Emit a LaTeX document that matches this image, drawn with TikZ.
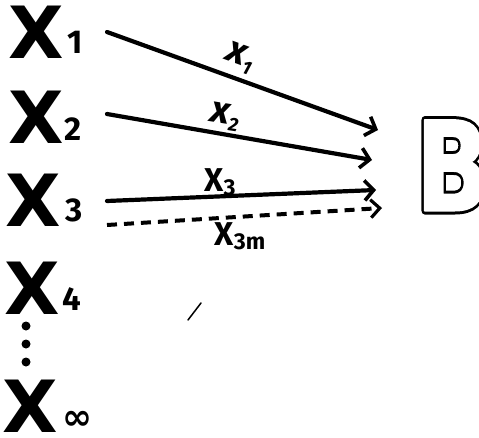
\documentclass[tikz,border=0pt]{standalone}
\usepackage{fontspec}
\setmainfont{Fira Sans}
\newfontfamily\djb{DejaVu Sans Bold}
\usetikzlibrary{arrows.meta}
\tikzset{
  bigx/.style={font=\djb\fontsize{72}{72}\selectfont, inner sep=0pt},
  idx/.style={font=\bfseries\fontsize{33}{33}\selectfont, inner sep=0pt},
  arr/.style={line width=4.2pt, line cap=round, -{Straight Barb[length=9pt,width=20pt,line width=3.6pt]}},
  darr/.style={line width=4pt, dash pattern=on 10pt off 7pt, -{Straight Barb[length=9pt,width=18pt,line width=3.2pt]}},
  lab/.style={font=\bfseries\fontsize{38}{38}\selectfont, inner sep=0pt},
  bfont/.style={font=\djb\fontsize{124}{124}\selectfont, anchor=base west, inner sep=0pt, xscale=0.78},
  dotm/.style={fill=black, circle, inner sep=0pt, minimum size=9pt}
}
\begin{document}
\begin{tikzpicture}[x=1pt,y=-1pt]
\useasboundingbox (0,0) rectangle (479,438);
\fill[white] (0,0) rectangle (479,438);
% big X nodes
\node[bigx] (X1) at (36,32) {X};
\node[bigx] (X2) at (36,117) {X};
\node[bigx] (X3) at (33,200) {X};
\node[bigx] (X4) at (32,288) {X};
\node[bigx] (Xinf) at (30,406) {X};
% indices
\node[idx] (i1) at (75,42) {1};
\node[idx] (i2) at (73,129) {2};
\node[idx] (i3) at (74,210) {3};
\node[idx] (i4) at (72,299) {4};
\node[font=\djb\fontsize{36}{36}\selectfont, inner sep=0pt] (iinf) at (77,420) {∞};
% vertical dots
\node[dotm] (d1) at (26,326) {};
\node[dotm] (d2) at (26,344) {};
\node[dotm] (d3) at (26,362) {};
% outlined heavy B: black thick stroke, then white fill+stroke on top
\node[bfont, text=black] (B) at (415.5,210.5)
  {\special{pdf:literal direct 2 Tr 8 w 1 j}B\special{pdf:literal direct 0 Tr}};
\node[bfont, text=white] (Bw) at (415.5,210.5)
  {\special{pdf:literal direct 2 Tr 2 w 1 j}B\special{pdf:literal direct 0 Tr}};
% arrow end points
\coordinate (s1) at (107,32);  \coordinate (e1) at (378,130);
\coordinate (s2) at (107,114); \coordinate (e2) at (372,160);
\coordinate (s3) at (107,201); \coordinate (e3) at (376,190);
\coordinate (s4) at (107,225); \coordinate (e4) at (382,208);
\draw[arr] (s1) -- (e1);
\draw[arr] (s2) -- (e2);
\draw[arr] (s3) -- (e3);
\draw[darr] (s4) -- (e4);
% labels
\node[lab, rotate=-20] (l1) at (240,58) {\itshape x\raisebox{-7pt}{\fontsize{19}{19}\selectfont 1}};
\node[lab, rotate=-9] (l2) at (225,117) {\itshape x\raisebox{-6pt}{\fontsize{19}{19}\selectfont 2}};
\node[lab, font=\bfseries\fontsize{33}{33}\selectfont] (l3) at (220,182) {X\raisebox{-4pt}{\fontsize{23}{23}\selectfont 3}};
\node[lab, font=\bfseries\fontsize{33}{33}\selectfont] (l4) at (240,236) {X\raisebox{-4pt}{\fontsize{23}{23}\selectfont 3m}};
% small stray stroke
\coordinate (m1) at (188,320); \coordinate (m2) at (201,303);
\draw[line width=1.5pt, line cap=round] (m1) -- (m2);
\end{tikzpicture}
\end{document}
